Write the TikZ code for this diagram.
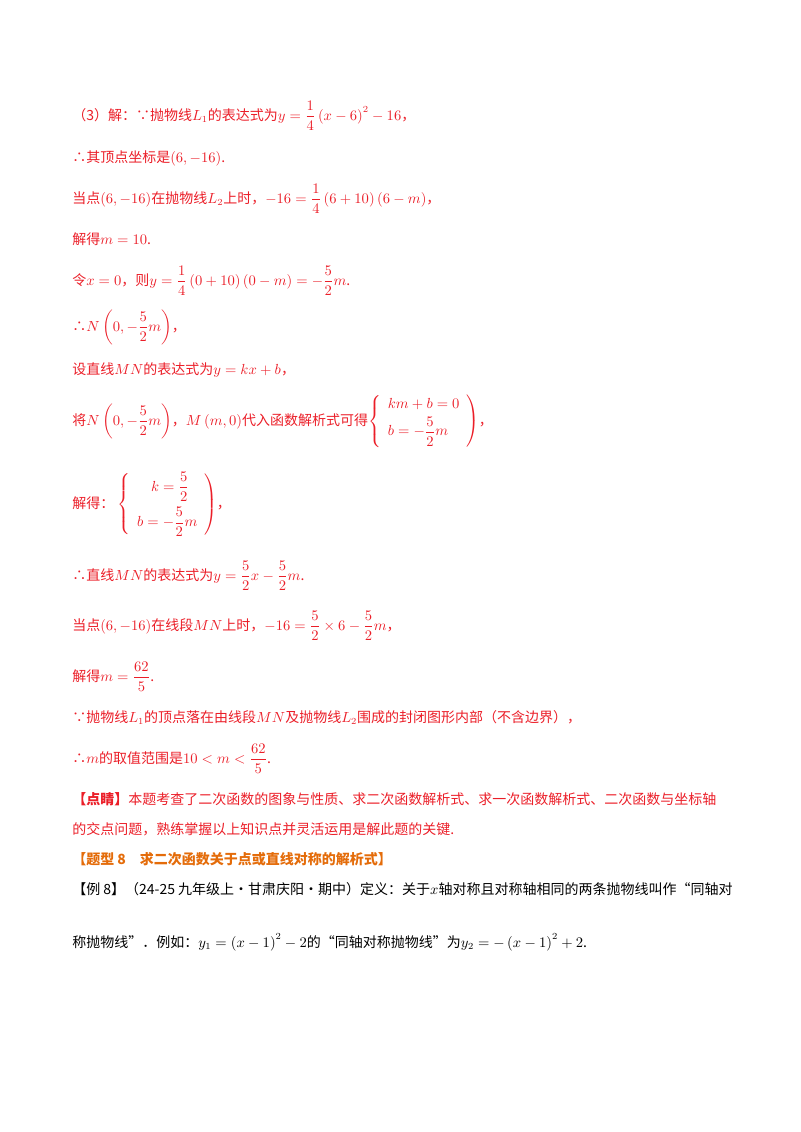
\documentclass[tikz,border=0pt]{standalone}
\usepackage{amsmath}
\usepackage{fontspec}
\setmainfont{Noto Sans CJK SC}
\definecolor{ansred}{RGB}{235,30,40}
\definecolor{orng}{RGB}{228,108,10}
\begin{document}
\begin{tikzpicture}[x=0.75pt,y=-0.75pt,
  ln/.style={anchor=base west,inner sep=0pt,font=\fontsize{10.5pt}{13pt}\selectfont,text=ansred},
  bk/.style={ln,text=black}]
\useasboundingbox (0,0) rectangle (800,1132);
\node[ln] (l1) at (72,120) {（3）解：∵抛物线$L_1$的表达式为$y=\dfrac14\left(x-6\right)^2-16$，};
\node[ln] (l2) at (72,162) {∴其顶点坐标是$\left(6,-16\right)$.};
\node[ln] (l3) at (72,203) {当点$\left(6,-16\right)$在抛物线$L_2$上时，$-16=\dfrac14\left(6+10\right)\left(6-m\right)$，};
\node[ln] (l4) at (72,244) {解得$m=10$.};
\node[ln] (l5) at (72,285) {令$x=0$，则$y=\dfrac14\left(0+10\right)\left(0-m\right)=-\dfrac52m$.};
\node[ln] (l6) at (72,331) {∴$N\left(0,-\dfrac52m\right)$，};
\node[ln] (l7) at (72,374) {设直线$MN$的表达式为$y=kx+b$，};
\node[ln] (l8) at (72,425) {将$N\left(0,-\dfrac52m\right)$，$M\left(m,0\right)$代入函数解析式可得$\left\{\begin{array}{l}km+b=0\\[2pt] b=-\dfrac52m\end{array}\right)$，};
\node[ln] (l9) at (72,508) {解得：\ $\left\{\begin{array}{l}\quad k=\dfrac52\\[8pt] b=-\dfrac52m\end{array}\right)$，};
\node[ln] (l10) at (72,580) {∴直线$MN$的表达式为$y=\dfrac52x-\dfrac52m$.};
\node[ln] (l11) at (72,630) {当点$\left(6,-16\right)$在线段$MN$上时，$-16=\dfrac52\times6-\dfrac52m$，};
\node[ln] (l12) at (72,681) {解得$m=\dfrac{62}5$.};
\node[ln] (l13) at (72,722) {∵抛物线$L_1$的顶点落在由线段$MN$及抛物线$L_2$围成的封闭图形内部（不含边界），};
\node[ln] (l14) at (72,763) {∴$m$的取值范围是$10<m<\dfrac{62}5$.};
\node[ln] (l15) at (72,804) {\textbf{【点睛】}本题考查了二次函数的图象与性质、求二次函数解析式、求一次函数解析式、二次函数与坐标轴};
\node[ln] (l16) at (72,834) {的交点问题，熟练掌握以上知识点并灵活运用是解此题的关键.};
\node[ln,text=orng,font=\fontsize{10.5pt}{13pt}\selectfont\bfseries] (l17) at (72,864) {【题型 8\quad 求二次函数关于点或直线对称的解析式】};
\node[bk] (l18) at (72,894) {【例 8】（24-25 九年级上·甘肃庆阳·期中）定义：关于$x$轴对称且对称轴相同的两条抛物线叫作“同轴对};
\node[bk] (l19) at (72,947) {称抛物线”．例如：$y_1=\left(x-1\right)^2-2$的“同轴对称抛物线”为$y_2=-\left(x-1\right)^2+2$.};
\end{tikzpicture}
\end{document}
